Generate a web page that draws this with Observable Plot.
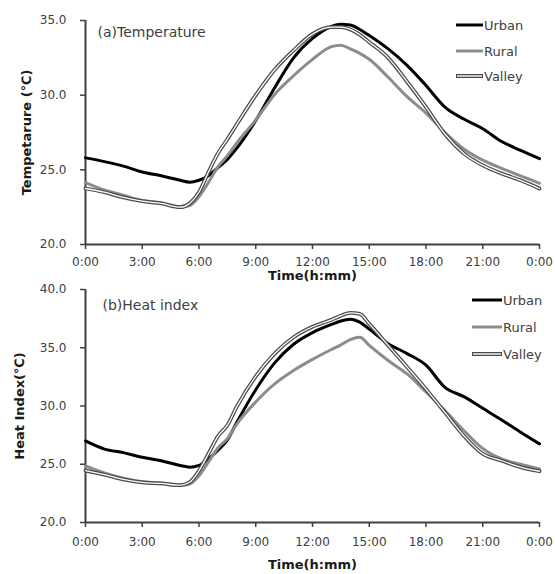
<!DOCTYPE html>
<html>
<head>
<meta charset="utf-8">
<script src="https://cdn.jsdelivr.net/npm/d3@7"></script>
<script src="https://cdn.jsdelivr.net/npm/@observablehq/plot@0.6"></script>
<style>
  html, body { margin: 0; padding: 0; background: #fff; }
  #wrap { position: relative; width: 555px; height: 574px; font-family: "DejaVu Sans", Verdana, sans-serif; }
  .panel { position: absolute; left: 0; width: 555px; }
  .panel svg g[aria-label="x-axis label"] text,
  .panel svg g[aria-label="y-axis label"] text { font-weight: bold; font-size: 13px; fill: #1a1a1a; }
  .legend { position: absolute; font-size: 13px; color: #404040; }
  .legend .row { position: absolute; display: flex; align-items: center; white-space: nowrap; }
  .legend svg { display: block; }
</style>
</head>
<body>
<div id="wrap"></div>
<script>
// ---- data ----
const hours = [0,1,2,3,4,5,5.5,6,6.5,7,7.5,8,9,10,11,12,13,13.5,14,14.5,15,16,17,18,19,20,21,22,23,24];
const seriesNames = ["Urban", "Rural", "Valley"];

const tempUrban  = [25.8,25.55,25.25,24.85,24.6,24.3,24.17,24.3,24.6,25.15,25.7,26.45,28.3,30.5,32.5,33.8,34.6,34.75,34.7,34.4,34.0,33.1,32.0,30.65,29.2,28.4,27.75,26.9,26.3,25.75];
const tempRural  = [24.15,23.65,23.3,22.95,22.8,22.5,22.6,23.2,24.15,25.2,25.95,26.8,28.35,30.05,31.3,32.4,33.25,33.35,33.1,32.8,32.4,31.2,29.9,28.8,27.5,26.4,25.65,25.1,24.6,24.1];
const tempValley = [23.75,23.5,23.15,22.9,22.75,22.5,22.75,23.5,24.85,26.1,27.05,28.05,30.0,31.7,33.0,34.1,34.55,34.55,34.4,34.05,33.55,32.5,30.9,29.2,27.4,26.1,25.3,24.75,24.3,23.75];

const hiUrban  = [27.0,26.3,26.0,25.6,25.3,24.9,24.75,24.9,25.45,26.2,27.1,28.6,31.4,33.7,35.3,36.3,37.0,37.3,37.45,37.2,36.6,35.35,34.5,33.5,31.6,30.8,29.8,28.8,27.75,26.75];
const hiRural  = [24.85,24.25,23.8,23.5,23.4,23.2,23.3,24.0,25.2,26.4,27.2,28.45,30.35,31.9,33.05,34.0,34.85,35.25,35.7,35.9,35.2,33.9,32.75,31.2,29.6,27.9,26.35,25.45,25.0,24.6];
const hiValley = [24.45,24.1,23.7,23.45,23.35,23.2,23.45,24.45,25.9,27.4,28.35,29.95,32.55,34.5,35.9,36.8,37.4,37.75,38.0,37.9,37.05,35.2,33.35,31.45,29.45,27.45,25.9,25.3,24.75,24.4];

const xTicks = [0,3,6,9,12,15,18,21,24];
const xTickLabels = ["0:00","3:00","6:00","9:00","12:00","15:00","18:00","21:00","0:00"];
const tempTicks = [20,25,30,35];
const hiTicks = [20,25,30,35,40];

// ---- helpers ----
function rows(u, r, v) {
  const out = [];
  hours.forEach((h, i) => {
    out.push({h, value: u[i], series: "Urban"});
    out.push({h, value: r[i], series: "Rural"});
    out.push({h, value: v[i], series: "Valley"});
  });
  return out;
}

const AX = "#404040";

function panel(opts) {
  const data = rows(...opts.values);
  const only = s => data.filter(d => d.series === s);
  return Plot.plot({
    width: 555,
    height: opts.height,
    marginLeft: 85,
    marginRight: 16,
    marginTop: opts.marginTop,
    marginBottom: opts.marginBottom,
    style: {fontFamily: "'DejaVu Sans', Verdana, sans-serif", fontSize: "12px", color: AX, background: "transparent", overflow: "visible"},
    x: {domain: [0, 24]},
    y: {domain: opts.yDomain},
    marks: [
      Plot.axisX({ticks: xTicks, tickFormat: (d) => xTickLabels[xTicks.indexOf(d)], tickSize: 5, tickPadding: opts.xPad,
        stroke: AX, strokeWidth: 1.5, label: "Time(h:mm)", labelAnchor: "center", labelArrow: "none", labelOffset: opts.xLabelOffset}),
      Plot.axisY({ticks: opts.yTicks, tickFormat: d => d.toFixed(1), tickSize: 5, tickPadding: 14,
        stroke: AX, strokeWidth: 1.5, label: opts.yLabel, labelAnchor: "center", labelArrow: "none", labelOffset: opts.yLabelOffset}),
      Plot.ruleY([opts.yDomain[0]], {stroke: AX, strokeWidth: 2}),
      Plot.ruleX([0], {stroke: AX, strokeWidth: 2}),
      Plot.line(only("Urban"), {x: "h", y: "value", stroke: "#000", strokeWidth: 3, curve: "monotone-x"}),
      Plot.line(only("Rural"), {x: "h", y: "value", stroke: "#8c8c8c", strokeWidth: 3, curve: "monotone-x"}),
      Plot.line(only("Valley"), {x: "h", y: "value", stroke: "#4a4a4a", strokeWidth: 3.8, curve: "monotone-x"}),
      Plot.line(only("Valley"), {x: "h", y: "value", stroke: "#fff", strokeWidth: 1.3, curve: "monotone-x"}),
      Plot.text([opts.title], {frameAnchor: "top-left", dx: opts.titleDx, dy: opts.titleDy, textAnchor: "start", fontSize: 14, fill: AX})
    ]
  });
}

function legend(el, left, tops, swLen) {
  const lg = document.createElement("div");
  lg.className = "legend";
  lg.style.left = left + "px";
  lg.style.top = "0px";
  seriesNames.forEach((name, i) => {
    const row = document.createElement("div");
    row.className = "row";
    row.style.top = (tops[i] - 9) + "px";
    row.style.height = "18px";
    let sw;
    if (name === "Urban") sw = `<line x1="0" y1="5" x2="${swLen}" y2="5" stroke="#000" stroke-width="3"/>`;
    else if (name === "Rural") sw = `<line x1="0" y1="5" x2="${swLen}" y2="5" stroke="#8c8c8c" stroke-width="3"/>`;
    else sw = `<line x1="0" y1="5" x2="${swLen}" y2="5" stroke="#4a4a4a" stroke-width="4"/><line x1="1" y1="5" x2="${swLen-1}" y2="5" stroke="#fff" stroke-width="1.4"/>`;
    row.innerHTML = `<svg width="${swLen}" height="10">${sw}</svg><span style="margin-left:1px">${name}</span>`;
    lg.appendChild(row);
  });
  el.appendChild(lg);
}

const wrap = document.getElementById("wrap");

const topPanel = document.createElement("div");
topPanel.className = "panel";
topPanel.style.top = "0px";
topPanel.style.height = "285px";
topPanel.appendChild(panel({
  values: [tempUrban, tempRural, tempValley],
  height: 285, marginTop: 20, marginBottom: 41,
  yDomain: [20, 35], yTicks: tempTicks,
  yLabel: "Tempetarure (℃)", yLabelOffset: 64,
  xPad: 8, xLabelOffset: 35,
  title: "(a)Temperature", titleDx: 12, titleDy: 7
}));
legend(topPanel, 456, [25, 51, 76], 27);
wrap.appendChild(topPanel);

const botPanel = document.createElement("div");
botPanel.className = "panel";
botPanel.style.top = "285px";
botPanel.style.height = "289px";
botPanel.appendChild(panel({
  values: [hiUrban, hiRural, hiValley],
  height: 289, marginTop: 4, marginBottom: 52,
  yDomain: [20, 40], yTicks: hiTicks,
  yLabel: "Heat Index(℃)", yLabelOffset: 71,
  xPad: 10, xLabelOffset: 46,
  title: "(b)Heat index", titleDx: 17, titleDy: 11
}));
legend(botPanel, 472, [15, 42, 69], 30);
wrap.appendChild(botPanel);
</script>
</body>
</html>
